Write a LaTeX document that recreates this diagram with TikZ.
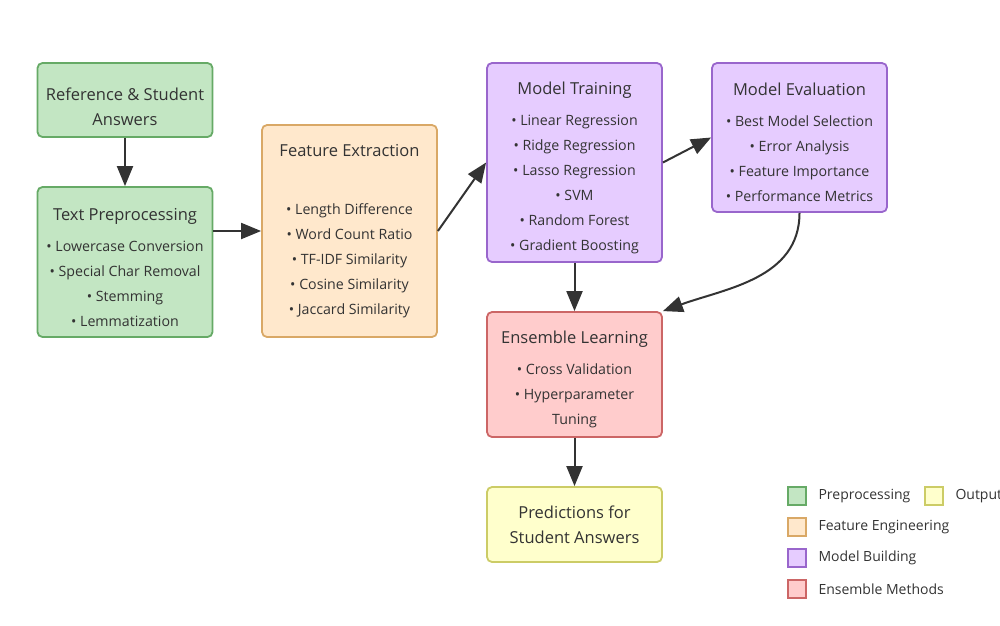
\documentclass[tikz,border=0pt]{standalone}
\usepackage{fontspec}
\setmainfont{Open Sans}
\usetikzlibrary{arrows.meta}

\definecolor{prepfill}{RGB}{195,230,195}
\definecolor{prepline}{RGB}{102,170,102}
\definecolor{featfill}{RGB}{255,232,204}
\definecolor{featline}{RGB}{217,168,102}
\definecolor{modfill}{RGB}{230,204,255}
\definecolor{modline}{RGB}{153,102,204}
\definecolor{ensfill}{RGB}{255,204,204}
\definecolor{ensline}{RGB}{204,102,102}
\definecolor{outfill}{RGB}{255,255,204}
\definecolor{outline}{RGB}{204,204,102}
\definecolor{ink}{RGB}{51,51,51}

\newcommand{\boxtitle}[1]{{\fontsize{16.5}{24}\selectfont #1}}
\newcommand{\toplift}[1]{\rule{0pt}{#1}}

\tikzset{
  stagebox/.style={draw, rounded corners=5pt, line width=1.8pt, align=center,
    text=ink, minimum width=175pt, inner sep=0pt,
    font=\fontsize{14.2}{25}\selectfont},
  flow/.style={draw=ink, line width=2pt, -{Triangle[length=20pt,width=16pt]}},
  swatch/.style={draw, line width=1.2pt, minimum size=18pt, inner sep=0pt},
  legtext/.style={anchor=west, text=ink, font=\fontsize{14}{16}\selectfont}
}

\begin{document}
\begin{tikzpicture}[x=1pt,y=-1pt]
    \useasboundingbox (0,0) rectangle (1000,625);

    % pipeline stages
    \node[stagebox, fill=prepfill, draw=prepline, minimum height=74pt] (answers) at (125,100)
        {\toplift{26pt}\boxtitle{Reference \& Student}\\\boxtitle{Answers}};
    \node[stagebox, fill=prepfill, draw=prepline, minimum height=150pt] (preproc) at (125,262)
        {\toplift{23pt}\boxtitle{Text Preprocessing}\\[6pt]
         • Lowercase Conversion\\• Special Char Removal\\• Stemming\\• Lemmatization};
    \node[stagebox, fill=featfill, draw=featline, minimum height=212pt] (features) at (349.5,231)
        {\boxtitle{Feature Extraction}\\[33pt]
         • Length Difference\\• Word Count Ratio\\• TF-IDF Similarity\\• Cosine Similarity\\• Jaccard Similarity};
    \node[stagebox, fill=modfill, draw=modline, minimum height=199pt] (training) at (574.5,162.5)
        {\toplift{23pt}\boxtitle{Model Training}\\[6pt]
         • Linear Regression\\• Ridge Regression\\• Lasso Regression\\• SVM\\• Random Forest\\• Gradient Boosting};
    \node[stagebox, fill=modfill, draw=modline, minimum height=149pt] (evaluation) at (799.5,137.5)
        {\toplift{22pt}\boxtitle{Model Evaluation}\\[6pt]
         • Best Model Selection\\• Error Analysis\\• Feature Importance\\• Performance Metrics};
    \node[stagebox, fill=ensfill, draw=ensline, minimum height=125pt] (ensemble) at (574.5,374.5)
        {\toplift{23pt}\boxtitle{Ensemble Learning}\\[6pt]
         • Cross Validation\\• Hyperparameter\\Tuning};
    \node[stagebox, fill=outfill, draw=outline, minimum height=75pt] (predict) at (574.5,524.5)
        {\boxtitle{Predictions for}\\\boxtitle{Student Answers}};

    % connectors
    \draw[flow] (answers) -- (preproc);
    \draw[flow] (preproc.east |- features.west) -- (features.west);
    \draw[flow] (features.east) -- (training.west);
    \draw[flow] (training.east) -- (evaluation.west);
    \draw[flow] (training) -- (ensemble);
    \draw[flow] (evaluation.south) to[out=-90, in=20] (ensemble.north east);
    \draw[flow] (ensemble) -- (predict);

    % legend
    \node[swatch, fill=prepfill, draw=prepline] (sw1) at (797,496) {};
    \node[legtext] (lg1) at (815,496) {Preprocessing};
    \node[swatch, fill=featfill, draw=featline] (sw2) at (797,527) {};
    \node[legtext] (lg2) at (815,527) {Feature Engineering};
    \node[swatch, fill=modfill, draw=modline] (sw3) at (797,558) {};
    \node[legtext] (lg3) at (815,558) {Model Building};
    \node[swatch, fill=ensfill, draw=ensline] (sw4) at (797,589) {};
    \node[legtext] (lg4) at (815,589) {Ensemble Methods};
    \node[swatch, fill=outfill, draw=outline] (sw5) at (934,496) {};
    \node[legtext] (lg5) at (952,496) {Output};
\end{tikzpicture}
\end{document}
